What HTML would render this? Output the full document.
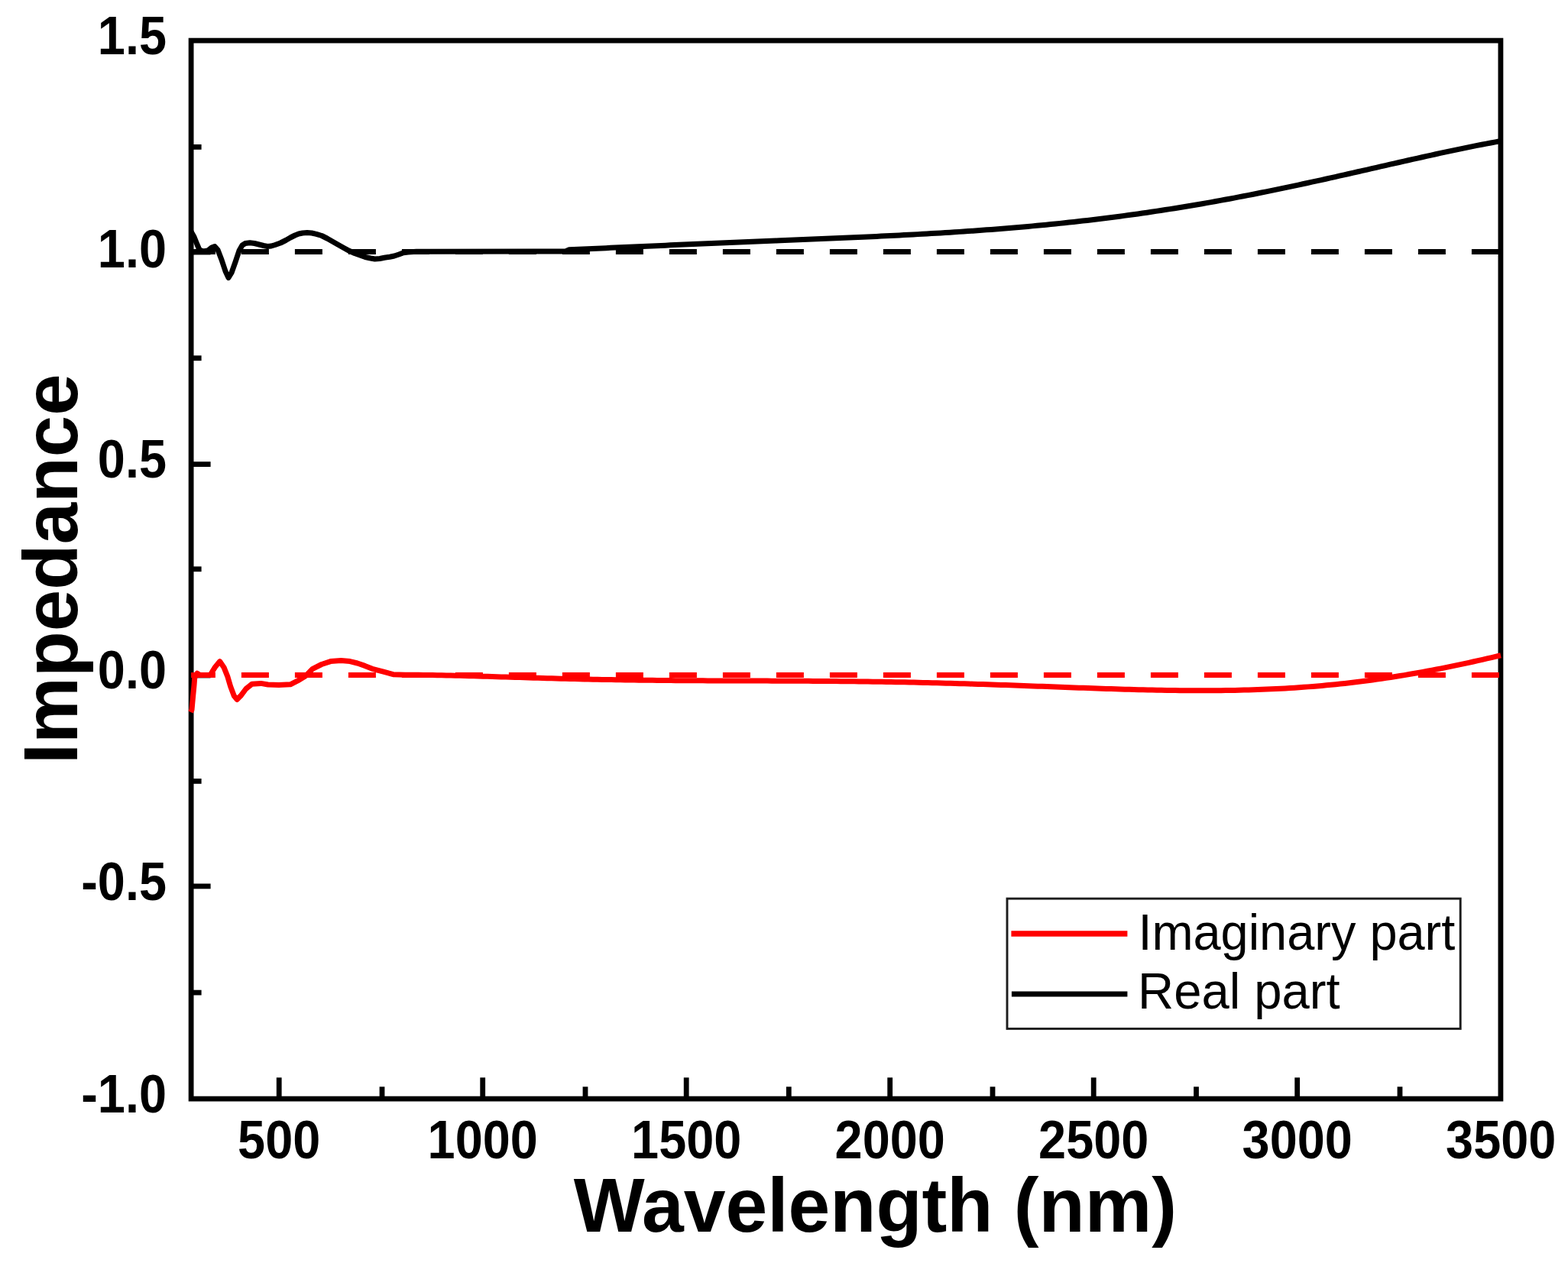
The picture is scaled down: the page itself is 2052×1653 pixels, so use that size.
<!DOCTYPE html>
<html><head><meta charset="utf-8"><title>Impedance vs Wavelength</title>
<style>
html,body{margin:0;padding:0;background:#fff;}
body{width:2052px;height:1653px;overflow:hidden;}
svg{display:block;}
text{font-family:"Liberation Sans",Arial,sans-serif;}
.b{font-weight:bold;}
</style></head><body>
<svg width="2052" height="1653" viewBox="0 0 2052 1653">
<rect x="0" y="0" width="2052" height="1653" fill="#fff"/>
<g stroke="#000" stroke-width="6.8" stroke-linecap="butt"><line x1="250.1" y1="330.05" x2="275.6" y2="330.05"/><line x1="250.1" y1="607.6" x2="275.6" y2="607.6"/><line x1="250.1" y1="884.0" x2="275.6" y2="884.0"/><line x1="250.1" y1="1159.9" x2="275.6" y2="1159.9"/><line x1="250.1" y1="192.4" x2="263.6" y2="192.4"/><line x1="250.1" y1="468.7" x2="263.6" y2="468.7"/><line x1="250.1" y1="744.8" x2="263.6" y2="744.8"/><line x1="250.1" y1="1022.4" x2="263.6" y2="1022.4"/><line x1="250.1" y1="1299.1" x2="263.6" y2="1299.1"/><line x1="365.2" y1="1438.1" x2="365.2" y2="1410.3"/><line x1="631.7" y1="1438.1" x2="631.7" y2="1410.3"/><line x1="898.2" y1="1438.1" x2="898.2" y2="1410.3"/><line x1="1164.7" y1="1438.1" x2="1164.7" y2="1410.3"/><line x1="1431.2" y1="1438.1" x2="1431.2" y2="1410.3"/><line x1="1697.7" y1="1438.1" x2="1697.7" y2="1410.3"/><line x1="500.0" y1="1438.1" x2="500.0" y2="1422.3"/><line x1="766.0" y1="1438.1" x2="766.0" y2="1422.3"/><line x1="1032.3" y1="1438.1" x2="1032.3" y2="1422.3"/><line x1="1299.0" y1="1438.1" x2="1299.0" y2="1422.3"/><line x1="1565.5" y1="1438.1" x2="1565.5" y2="1422.3"/><line x1="1832.0" y1="1438.1" x2="1832.0" y2="1422.3"/></g>
<rect x="250.1" y="53.1" width="1713.8" height="1385.0" fill="none" stroke="#000" stroke-width="6.8" stroke-linejoin="miter"/>
<line x1="250.1" y1="329.6" x2="1963.9" y2="329.6" stroke="#000" stroke-width="7" stroke-dasharray="36 34" stroke-dashoffset="4.20"/>
<line x1="250.1" y1="883.6" x2="1963.9" y2="883.6" stroke="#f00" stroke-width="7" stroke-dasharray="36 34" stroke-dashoffset="4.20"/>
<polyline points="250,303 254,310 258,320 261,327 266,329 272,328 277,324 281,322.5 285,327 290,340 295,355 299,363.5 303,357 308,343 313,328 317,321 321,318.5 327,317.8 333,318.5 339,320 345,321.5 350,322.5 355,322 360,320.5 367,318 374,314.5 380,311 386,308 391,306 396,305 402,304.6 408,305 414,306.3 421,308.5 428,312 435,316 442,320 450,324.5 457,328.3 464,331.5 471,334 478,336.5 485,338 490.6,339 497,338.5 503,337.3 510,336.2 516,335 522,333 528,330.8 534,330 545,329.3 563,329.2 700,329.1 740,329 745,326.76 751,326.5 757,326.24 763,325.98 769,325.71 775,325.45 781,325.18 787,324.91 793,324.64 799,324.37 805,324.1 811,323.83 817,323.56 823,323.29 829,323.02 835,322.75 841,322.48 847,322.21 853,321.94 859,321.67 865,321.4 871,321.14 877,320.87 883,320.61 889,320.34 895,320.08 901,319.82 907,319.56 913,319.31 919,319.05 925,318.79 931,318.54 937,318.28 943,318.03 949,317.78 955,317.53 961,317.28 967,317.03 973,316.79 979,316.54 985,316.29 991,316.05 997,315.8 1003,315.56 1009,315.31 1015,315.07 1021,314.82 1027,314.58 1033,314.33 1039,314.09 1045,313.84 1051,313.59 1057,313.34 1063,313.1 1069,312.84 1075,312.59 1081,312.34 1087,312.08 1093,311.83 1099,311.57 1105,311.31 1111,311.04 1117,310.77 1123,310.5 1129,310.23 1135,309.95 1141,309.67 1147,309.39 1153,309.1 1159,308.81 1165,308.51 1171,308.21 1177,307.9 1183,307.59 1189,307.28 1195,306.95 1201,306.62 1207,306.29 1213,305.95 1219,305.6 1225,305.25 1231,304.89 1237,304.52 1243,304.14 1249,303.76 1255,303.37 1261,302.97 1267,302.56 1273,302.15 1279,301.72 1285,301.29 1291,300.85 1297,300.4 1303,299.94 1309,299.46 1315,298.98 1321,298.49 1327,297.99 1333,297.48 1339,296.96 1345,296.42 1351,295.88 1357,295.32 1363,294.75 1369,294.17 1375,293.58 1381,292.98 1387,292.36 1393,291.73 1399,291.09 1405,290.44 1411,289.78 1417,289.1 1423,288.41 1429,287.7 1435,286.98 1441,286.25 1447,285.51 1453,284.75 1459,283.98 1465,283.19 1471,282.39 1477,281.58 1483,280.76 1489,279.92 1495,279.06 1501,278.19 1507,277.31 1513,276.41 1519,275.5 1525,274.58 1531,273.64 1537,272.69 1543,271.72 1549,270.74 1555,269.75 1561,268.74 1567,267.72 1573,266.69 1579,265.64 1585,264.58 1591,263.5 1597,262.41 1603,261.31 1609,260.2 1615,259.07 1621,257.93 1627,256.78 1633,255.61 1639,254.44 1645,253.25 1651,252.05 1657,250.84 1663,249.62 1669,248.39 1675,247.15 1681,245.89 1687,244.63 1693,243.36 1699,242.08 1705,240.79 1711,239.49 1717,238.18 1723,236.87 1729,235.55 1735,234.22 1741,232.89 1747,231.55 1753,230.2 1759,228.85 1765,227.5 1771,226.14 1777,224.78 1783,223.41 1789,222.05 1795,220.68 1801,219.31 1807,217.94 1813,216.57 1819,215.2 1825,213.84 1831,212.47 1837,211.11 1843,209.76 1849,208.4 1855,207.06 1861,205.72 1867,204.38 1873,203.06 1879,201.74 1885,200.43 1891,199.13 1897,197.85 1903,196.57 1909,195.31 1915,194.07 1921,192.84 1927,191.62 1933,190.42 1939,189.24 1945,188.08 1951,186.94 1957,185.83 1963,184.73 1964,184.55" fill="none" stroke="#000" stroke-width="7" stroke-linejoin="round" stroke-linecap="butt"/>
<polyline points="249.5,932 251,929 252.5,912.4 254,896.8 254.8,886.6 258,881.2 261.8,883.5 275.1,883.5 281.3,873.4 287.6,865.6 293,873.4 297.7,885.1 301.6,898.3 306.3,910.8 310.2,915.5 314.9,910.8 321.9,901.5 329.7,895.2 341.4,894.4 350.7,896 364.8,896.4 380,895.8 389.7,890.9 399.5,885.1 409.2,875.3 420.9,869.5 432.6,865.6 446.3,864.6 458,865.6 467.7,868 477.5,871.4 487.2,875.3 501.8,879.2 514.5,882.7 530,883.25 536,883.26 542,883.29 548,883.33 554,883.39 560,883.47 566,883.56 572,883.66 578,883.78 584,883.9 590,884.03 596,884.18 602,884.33 608,884.48 614,884.64 620,884.81 626,884.98 632,885.16 638,885.34 644,885.52 650,885.7 656,885.89 662,886.07 668,886.25 674,886.44 680,886.62 686,886.8 692,886.98 698,887.16 704,887.33 710,887.51 716,887.67 722,887.84 728,888 734,888.16 740,888.31 746,888.46 752,888.61 758,888.75 764,888.89 770,889.02 776,889.15 782,889.27 788,889.39 794,889.5 800,889.61 806,889.71 812,889.81 818,889.9 824,889.99 830,890.07 836,890.15 842,890.23 848,890.3 854,890.36 860,890.42 866,890.48 872,890.54 878,890.59 884,890.63 890,890.68 896,890.72 902,890.75 908,890.79 914,890.82 920,890.85 926,890.88 932,890.9 938,890.92 944,890.95 950,890.97 956,890.99 962,891 968,891.02 974,891.04 980,891.05 986,891.07 992,891.09 998,891.1 1004,891.12 1010,891.14 1016,891.16 1022,891.18 1028,891.2 1034,891.23 1040,891.25 1046,891.28 1052,891.31 1058,891.34 1064,891.38 1070,891.42 1076,891.46 1082,891.5 1088,891.55 1094,891.6 1100,891.66 1106,891.72 1112,891.78 1118,891.85 1124,891.92 1130,891.99 1136,892.07 1142,892.15 1148,892.24 1154,892.34 1160,892.43 1166,892.54 1172,892.64 1178,892.76 1184,892.87 1190,892.99 1196,893.12 1202,893.25 1208,893.39 1214,893.53 1220,893.68 1226,893.83 1232,893.98 1238,894.15 1244,894.31 1250,894.48 1256,894.65 1262,894.83 1268,895.02 1274,895.2 1280,895.39 1286,895.59 1292,895.78 1298,895.99 1304,896.19 1310,896.4 1316,896.61 1322,896.82 1328,897.04 1334,897.26 1340,897.47 1346,897.7 1352,897.92 1358,898.14 1364,898.37 1370,898.59 1376,898.82 1382,899.04 1388,899.27 1394,899.49 1400,899.71 1406,899.93 1412,900.15 1418,900.37 1424,900.58 1430,900.79 1436,901 1442,901.2 1448,901.4 1454,901.6 1460,901.79 1466,901.97 1472,902.15 1478,902.32 1484,902.49 1490,902.64 1496,902.79 1502,902.93 1508,903.07 1514,903.19 1520,903.3 1526,903.4 1532,903.5 1538,903.58 1544,903.65 1550,903.7 1556,903.75 1562,903.78 1568,903.8 1574,903.8 1580,903.79 1586,903.76 1592,903.72 1598,903.66 1604,903.59 1610,903.49 1616,903.38 1622,903.26 1628,903.11 1634,902.95 1640,902.76 1646,902.56 1652,902.33 1658,902.09 1664,901.82 1670,901.53 1676,901.22 1682,900.89 1688,900.54 1694,900.16 1700,899.76 1706,899.33 1712,898.88 1718,898.41 1724,897.91 1730,897.39 1736,896.85 1742,896.27 1748,895.67 1754,895.05 1760,894.4 1766,893.73 1772,893.02 1778,892.3 1784,891.54 1790,890.76 1796,889.96 1802,889.12 1808,888.27 1814,887.38 1820,886.47 1826,885.53 1832,884.57 1838,883.58 1844,882.57 1850,881.53 1856,880.47 1862,879.39 1868,878.28 1874,877.14 1880,875.99 1886,874.81 1892,873.61 1898,872.38 1904,871.14 1910,869.88 1916,868.6 1922,867.3 1928,865.98 1934,864.65 1940,863.3 1946,861.94 1952,860.56 1958,859.18 1964,857.78" fill="none" stroke="#f00" stroke-width="7" stroke-linejoin="round" stroke-linecap="butt"/>
<text class="b" font-size="70.5" text-anchor="end" transform="translate(218.0,71.30) scale(0.92,1)">1.5</text>
<text class="b" font-size="70.5" text-anchor="end" transform="translate(218.0,349.65) scale(0.92,1)">1.0</text>
<text class="b" font-size="70.5" text-anchor="end" transform="translate(218.0,625.10) scale(0.92,1)">0.5</text>
<text class="b" font-size="70.5" text-anchor="end" transform="translate(218.0,901.40) scale(0.92,1)">0.0</text>
<text class="b" font-size="70.5" text-anchor="end" transform="translate(218.0,1177.55) scale(0.92,1)">-0.5</text>
<text class="b" font-size="70.5" text-anchor="end" transform="translate(218.0,1455.70) scale(0.92,1)">-1.0</text>
<text class="b" font-size="70.5" text-anchor="middle" transform="translate(365.2,1516.2) scale(0.92,1)">500</text>
<text class="b" font-size="70.5" text-anchor="middle" transform="translate(631.7,1516.2) scale(0.92,1)">1000</text>
<text class="b" font-size="70.5" text-anchor="middle" transform="translate(898.2,1516.2) scale(0.92,1)">1500</text>
<text class="b" font-size="70.5" text-anchor="middle" transform="translate(1164.7,1516.2) scale(0.92,1)">2000</text>
<text class="b" font-size="70.5" text-anchor="middle" transform="translate(1431.2,1516.2) scale(0.92,1)">2500</text>
<text class="b" font-size="70.5" text-anchor="middle" transform="translate(1697.7,1516.2) scale(0.92,1)">3000</text>
<text class="b" font-size="70.5" text-anchor="middle" transform="translate(1964.2,1516.2) scale(0.92,1)">3500</text>
<text class="b" font-size="101" transform="translate(750.8,1611.7) scale(0.9745,1)">Wavelength (nm)</text>
<text class="b" font-size="101" transform="translate(100.5,1000.1) rotate(-90) scale(0.968,1)">Impedance</text>
<rect x="1318" y="1176.1" width="593.2" height="170.3" fill="#fff" stroke="#1c1c1c" stroke-width="2.9"/>
<line x1="1323.4" y1="1222" x2="1475.4" y2="1222" stroke="#f00" stroke-width="7.4"/>
<line x1="1323.9" y1="1301" x2="1475.4" y2="1301" stroke="#000" stroke-width="6.8"/>
<text font-size="67" transform="translate(1489.4,1242.6) scale(0.969,1)">Imaginary part</text>
<text font-size="67" transform="translate(1489.1,1320.4) scale(0.973,1)">Real part</text>
</svg>
</body></html>
